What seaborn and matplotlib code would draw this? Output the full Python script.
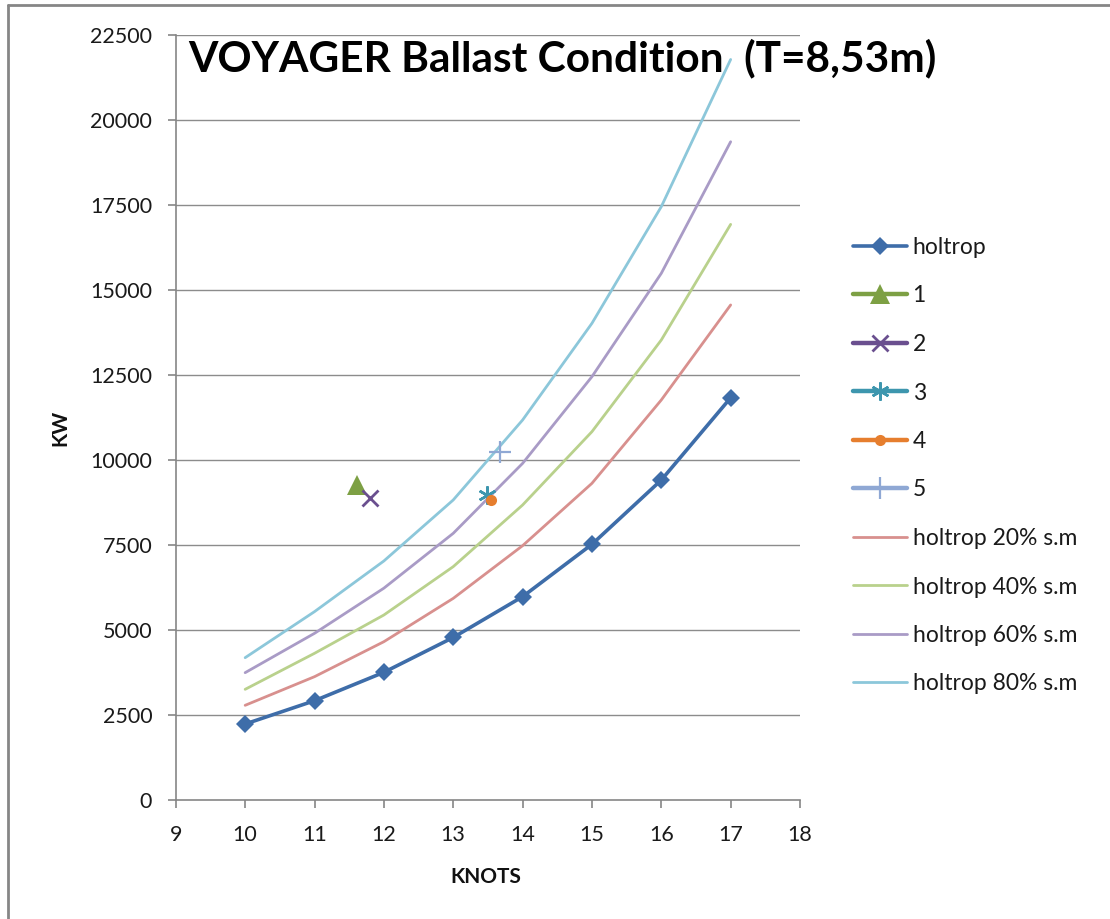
import matplotlib
matplotlib.use("Agg")
import matplotlib.pyplot as plt
import matplotlib.lines as mlines
import seaborn as sns
import pandas as pd

# Ship speed (knots) and delivered power (kW)
knots = [10, 11, 12, 13, 14, 15, 16, 17]
holtrop = [2235, 2920, 3755, 4780, 5980, 7520, 9410, 11830]
holtrop_20 = [2785, 3627, 4656, 5930, 7480, 9314, 11765, 14560]
holtrop_40 = [3255, 4314, 5441, 6863, 8676, 10833, 13529, 16930]
holtrop_60 = [3745, 4902, 6230, 7843, 9900, 12451, 15490, 19360]
holtrop_80 = [4186, 5540, 7030, 8824, 11176, 14020, 17451, 21780]

# Measured service points
point_names = ["1", "2", "3", "4", "5"]
point_knots = [11.61, 11.80, 13.49, 13.55, 13.67]
point_kw = [9265, 8873, 8970, 8824, 10245]

y_ticks = [0, 2500, 5000, 7500, 10000, 12500, 15000, 17500, 20000, 22500]
x_ticks = [9, 10, 11, 12, 13, 14, 15, 16, 17, 18]

sns.set_theme(style="white")
plt.rcParams["font.family"] = ["Lato", "DejaVu Sans"]

fig = plt.figure(figsize=(11.10, 9.19), dpi=100)
ax = fig.add_axes([175.8 / 1110, 1 - 800 / 919, (800 - 175.8) / 1110, (800 - 35) / 919])

grid_col = "#8C8C8C"
for v in y_ticks[1:]:
    ax.axhline(v, color=grid_col, lw=1.0, zorder=0)

df_h = pd.DataFrame({"knots": knots, "kw": holtrop})
sns.lineplot(data=df_h, x="knots", y="kw", ax=ax, color="#3E6DA9", lw=2.6,
             marker="D", markersize=9.5, markeredgewidth=0,
             markeredgecolor="#3E6DA9", label="holtrop", zorder=5)

point_styles = [
    dict(color="#7DA044", marker="^", markersize=15, markeredgewidth=0),
    dict(color="#6A4F8F", marker="x", markersize=12, markeredgewidth=2.0),
    dict(color="#3D96AE", marker=(6, 2, 0), markersize=13, markeredgewidth=1.8),
    dict(color="#E67E2E", marker="o", markersize=8, markeredgewidth=0),
    dict(color="#8FA8D4", marker="+", markersize=16, markeredgewidth=1.6),
]
for name, xk, yk, st in zip(point_names, point_knots, point_kw, point_styles):
    dfp = pd.DataFrame({"knots": [xk], "kw": [yk]})
    sns.lineplot(data=dfp, x="knots", y="kw", ax=ax, lw=3.2, label=name,
                 markeredgecolor=st["color"], zorder=6, **st)

margin_series = [
    ("holtrop 20% s.m", holtrop_20, "#D8908E"),
    ("holtrop 40% s.m", holtrop_40, "#B9D18C"),
    ("holtrop 60% s.m", holtrop_60, "#A99BC6"),
    ("holtrop 80% s.m", holtrop_80, "#8CC7DA"),
]
for name, vals, col in margin_series:
    dfm = pd.DataFrame({"knots": knots, "kw": vals})
    sns.lineplot(data=dfm, x="knots", y="kw", ax=ax, color=col, lw=2.0,
                 label=name, zorder=4)

ax.set_xlim(9, 18)
ax.set_ylim(0, 22500)
ax.set_xticks(x_ticks)
ax.set_yticks(y_ticks)
ax.set_xticklabels([str(t) for t in x_ticks])
ax.set_yticklabels([str(t) for t in y_ticks])
ax.grid(False)

spine_col = "#868686"
for s in ["top", "right"]:
    ax.spines[s].set_visible(False)
for s in ["left", "bottom"]:
    ax.spines[s].set_color(spine_col)
    ax.spines[s].set_linewidth(1.2)
ax.tick_params(axis="both", which="major", direction="out", length=6,
               width=1.2, color=spine_col, labelsize=15.5, labelcolor="#1a1a1a",
               left=True, bottom=True)
ax.tick_params(axis="y", pad=11)
ax.tick_params(axis="x", pad=12)

ax.set_xlabel("")
ax.set_ylabel("")
fig.text(486 / 1110, 1 - 877 / 919, "KNOTS", ha="center", va="center",
         fontsize=15, fontweight="bold", color="#111111")
fig.text(60 / 1110, 1 - 428 / 919, "KW", ha="center", va="center",
         rotation=90, fontsize=15, fontweight="bold", color="#111111")

fig.text(562 / 1110, 1 - 58 / 919, "VOYAGER Ballast Condition  (T=8,53m)",
         ha="center", va="center", fontsize=30.5, fontweight="bold",
         color="#000000", zorder=10)

leg = ax.legend(loc="upper left", bbox_to_anchor=(853 / 1110, 1 - 237 / 919),
                bbox_transform=fig.transFigure, frameon=False, fontsize=16.5,
                handlelength=2.35, handletextpad=0.25, labelspacing=1.2,
                borderpad=0, borderaxespad=0)
for t in leg.get_texts():
    t.set_color("#1a1a1a")

# Outer chart frame (top and left edges)
fig.add_artist(mlines.Line2D([8 / 1110, 8 / 1110], [0, 1 - 5 / 919],
                             transform=fig.transFigure, color="#868686", lw=2))
fig.add_artist(mlines.Line2D([8 / 1110, 1], [1 - 5 / 919, 1 - 5 / 919],
                             transform=fig.transFigure, color="#868686", lw=2))

fig.savefig("out.png", dpi=100)
